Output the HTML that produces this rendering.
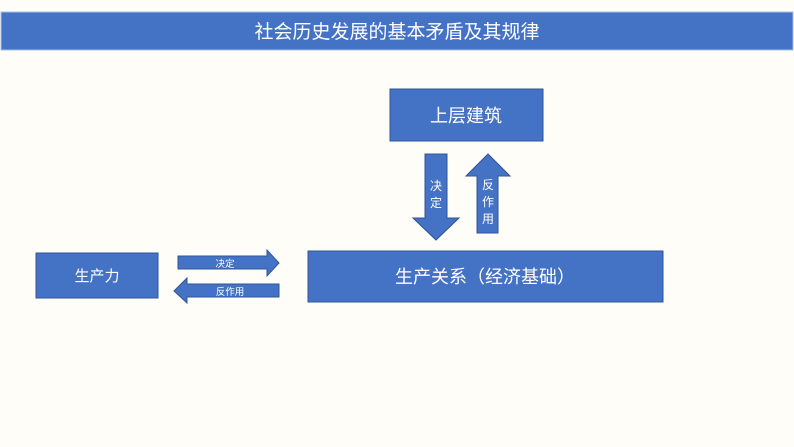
<!DOCTYPE html>
<html><head><meta charset="utf-8"><style>
html,body{margin:0;padding:0;background:#fffdf8;}
svg{display:block;}
text{font-family:"Liberation Sans","Noto Sans CJK SC",sans-serif;fill:#fff;}
</style></head><body>
<svg width="794" height="447" viewBox="0 0 794 447" xmlns="http://www.w3.org/2000/svg">
<rect width="794" height="447" fill="#fffdf8"/>
<rect x="1" y="12" width="792" height="38" fill="#4472c4" stroke="#a9bfe3" stroke-width="1"/>
<text x="397" y="38" font-size="19" text-anchor="middle">社会历史发展的基本矛盾及其规律</text>

<rect x="390" y="89" width="153" height="52" fill="#4472c4" stroke="#2f5597" stroke-width="1"/>
<text x="466" y="122" font-size="18" text-anchor="middle">上层建筑</text>

<rect x="36" y="253" width="122" height="45" fill="#4472c4" stroke="#2f5597" stroke-width="1"/>
<text x="97" y="281" font-size="15" text-anchor="middle">生产力</text>

<rect x="308" y="251" width="355" height="51" fill="#4472c4" stroke="#2f5597" stroke-width="1"/>
<text x="485" y="283" font-size="18" text-anchor="middle">生产关系（经济基础）</text>

<!-- down arrow -->
<polygon points="425,154 447,154 447,218 459,218 436,240 413,218 425,218" fill="#4472c4" stroke="#2f5597" stroke-width="1"/>
<text x="436" y="190" font-size="12" text-anchor="middle">决</text>
<text x="436" y="207" font-size="12" text-anchor="middle">定</text>
<!-- up arrow -->
<polygon points="488,154 510,176 498,176 498,233 477,233 477,176 466,176" fill="#4472c4" stroke="#2f5597" stroke-width="1"/>
<text x="488" y="189" font-size="12" text-anchor="middle">反</text>
<text x="488" y="206" font-size="12" text-anchor="middle">作</text>
<text x="488" y="223" font-size="12" text-anchor="middle">用</text>

<!-- right arrow -->
<polygon points="178,256 267,256 267,250 279,263 267,276 267,269 178,269" fill="#4472c4" stroke="#2f5597" stroke-width="1"/>
<text x="225" y="267" font-size="9.5" text-anchor="middle">决定</text>
<!-- left arrow -->
<polygon points="174,291 187,278 187,284 279,284 279,297 187,297 187,303" fill="#4472c4" stroke="#2f5597" stroke-width="1"/>
<text x="230" y="295" font-size="9.5" text-anchor="middle">反作用</text>
</svg>
</body></html>
